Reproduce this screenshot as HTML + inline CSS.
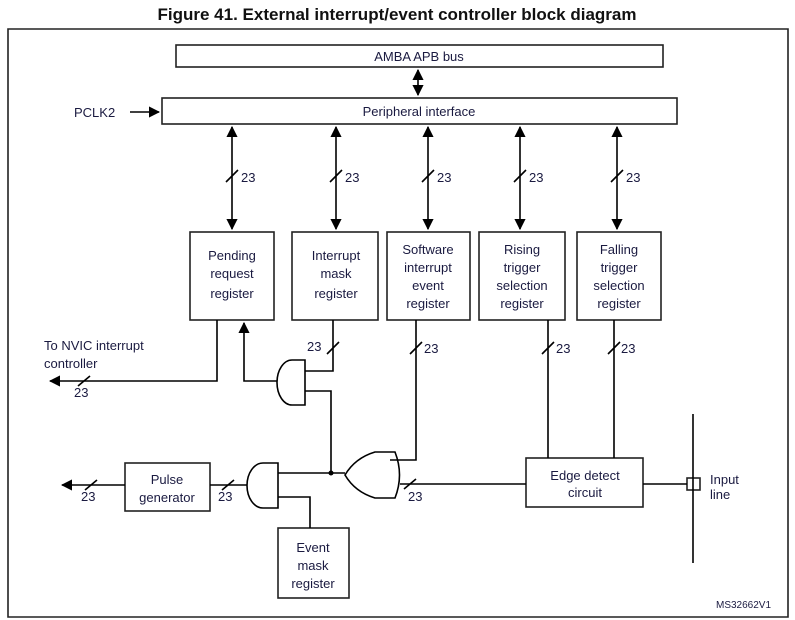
<!DOCTYPE html>
<html><head><style>
body{margin:0;background:#fff;}
svg{display:block;font-family:"Liberation Sans",Arial,sans-serif;}
.t{font-size:13px;fill:#1a1a40;}
</style></head><body>
<svg width="795" height="620" viewBox="0 0 795 620" xmlns="http://www.w3.org/2000/svg">
<defs>
<marker id="a" viewBox="0 0 10 10" refX="9" refY="5" markerWidth="7" markerHeight="7" orient="auto-start-reverse"><path d="M0,0L10,5L0,10z" fill="#000"/></marker>
</defs>
<text x="397" y="20" text-anchor="middle" font-size="17" font-weight="bold" fill="#111">Figure 41. External interrupt/event controller block diagram</text>
<g fill="none" stroke="#222" stroke-width="1.6">
<rect x="8" y="29" width="400" height="589" stroke="none"/>
<rect x="8.5" y="29" width="400" height="0" />
</g>
<g fill="none" stroke="#222" stroke-width="1.6">
<rect x="8" y="29" width="400" height="0" stroke="none"/>
<rect x="8" y="29" width="400" height="0" stroke="none"/>
<rect x="8" y="29" width="400" height="0" stroke="none"/>
</g>
<g fill="none" stroke="#222" stroke-width="1.6">
<rect x="8" y="29" width="400" height="0" stroke="none"/>
<rect x="8" y="29" width="400" height="0" stroke="none"/>
<path d="M8,29H788V617H8Z"/>
<rect x="176" y="45" width="487" height="22"/>
<rect x="162" y="98" width="515" height="26"/>
<rect x="190" y="232" width="84" height="88"/>
<rect x="292" y="232" width="86" height="88"/>
<rect x="387" y="232" width="83" height="88"/>
<rect x="479" y="232" width="86" height="88"/>
<rect x="577" y="232" width="84" height="88"/>
<rect x="125" y="463" width="85" height="48"/>
<rect x="278" y="528" width="71" height="70"/>
<rect x="526" y="458" width="117" height="49"/>
<rect x="687" y="478" width="13" height="12"/>
</g>
<g stroke="#000" stroke-width="1.6" fill="none">
<line x1="418" y1="70" x2="418" y2="95" marker-start="url(#a)" marker-end="url(#a)"/>
<line x1="130" y1="112" x2="159" y2="112" marker-end="url(#a)"/>
<line x1="232" y1="127" x2="232" y2="229" marker-start="url(#a)" marker-end="url(#a)"/>
<line x1="336" y1="127" x2="336" y2="229" marker-start="url(#a)" marker-end="url(#a)"/>
<line x1="428" y1="127" x2="428" y2="229" marker-start="url(#a)" marker-end="url(#a)"/>
<line x1="520" y1="127" x2="520" y2="229" marker-start="url(#a)" marker-end="url(#a)"/>
<line x1="617" y1="127" x2="617" y2="229" marker-start="url(#a)" marker-end="url(#a)"/>
<path d="M217,320V381H50" marker-end="url(#a)"/>
<path d="M277,381H244V323" marker-end="url(#a)"/>
<path d="M333,320V371H305"/>
<path d="M305,391H331V473"/>
<path d="M416,320V460H390"/>
<path d="M400,484H526"/>
<path d="M345,473H278"/>
<path d="M310,528V497H278"/>
<path d="M247,485H210"/>
<path d="M125,485H62" marker-end="url(#a)"/>
<path d="M548,320V458M614,320V458"/>
<path d="M643,484H687"/>
<path d="M693,414V563"/>
<!-- AND gates -->
<path d="M305,360H292A15,22.5 0 0 0 292,405H305Z"/>
<path d="M278,463H263A16,22.5 0 0 0 263,508H278Z"/>
<!-- OR gate facing left -->
<path d="M395,452Q404,475 395,498H375Q355,492 345,475Q355,458 375,452Z"/>
<!-- slashes -->
<path d="M226,182L238,170M330,182L342,170M422,182L434,170M514,182L526,170M611,182L623,170"/>
<path d="M327,354L339,342M410,354L422,342M542,354L554,342M608,354L620,342"/>
<path d="M78,386L90,376M85,490L97,480M222,490L234,480M404,489L416,479"/>
</g>
<circle cx="331" cy="473" r="2.5" fill="#000"/>
<g class="t" text-anchor="middle">
<text x="419" y="61">AMBA APB bus</text>
<text x="419" y="116">Peripheral interface</text>
<text x="232" y="260">Pending</text><text x="232" y="278">request</text><text x="232" y="298">register</text>
<text x="336" y="260">Interrupt</text><text x="336" y="278">mask</text><text x="336" y="298">register</text>
<text x="428" y="254">Software</text><text x="428" y="272">interrupt</text><text x="428" y="290">event</text><text x="428" y="308">register</text>
<text x="522" y="254">Rising</text><text x="522" y="272">trigger</text><text x="522" y="290">selection</text><text x="522" y="308">register</text>
<text x="619" y="254">Falling</text><text x="619" y="272">trigger</text><text x="619" y="290">selection</text><text x="619" y="308">register</text>
<text x="167" y="484">Pulse</text><text x="167" y="502">generator</text>
<text x="313" y="552">Event</text><text x="313" y="570">mask</text><text x="313" y="588">register</text>
<text x="585" y="480">Edge detect</text><text x="585" y="497">circuit</text>
</g>
<g class="t">
<text x="74" y="117">PCLK2</text>
<text x="241" y="182">23</text><text x="345" y="182">23</text><text x="437" y="182">23</text><text x="529" y="182">23</text><text x="626" y="182">23</text>
<text x="307" y="351">23</text><text x="424" y="353">23</text><text x="556" y="353">23</text><text x="621" y="353">23</text>
<text x="44" y="350">To NVIC interrupt</text><text x="44" y="368">controller</text>
<text x="74" y="397">23</text><text x="81" y="501">23</text><text x="218" y="501">23</text><text x="408" y="501">23</text>
<text x="710" y="484">Input</text><text x="710" y="499">line</text>
<text x="716" y="608" font-size="10">MS32662V1</text>
</g>
</svg>
</body></html>
